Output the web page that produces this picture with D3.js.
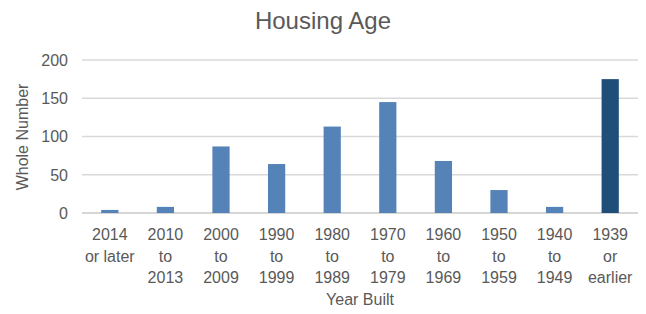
<!DOCTYPE html>
<html>
<head>
<meta charset="utf-8">
<script src="https://cdn.jsdelivr.net/npm/d3@7"></script>
<style>
  body { margin: 0; background: #fff; }
  text { font-family: "Liberation Sans", Arial, sans-serif; fill: #595959; }
</style>
</head>
<body>
<svg class="chart"></svg>
<script>
  // data
  let categories = ["2014|or later", "2010|to|2013", "2000|to|2009", "1990|to|1999", "1980|to|1989",
                    "1970|to|1979", "1960|to|1969", "1950|to|1959", "1940|to|1949", "1939|or|earlier"];
  let values     = [4, 8, 87, 64, 113, 145, 68, 30, 8, 175];
  let yTicks     = [0, 50, 100, 150, 200];

  let width  = 646;
  let height = 314;
  let margin = {left: 82, right: 8, top: 60, bottom: 101};
  let svg    = d3.select(".chart").attr("width", width).attr("height", height);

  let x = d3.scaleBand().domain(categories).range([margin.left, width - margin.right]).paddingInner(0.69).paddingOuter(0.345);
  let y = d3.scaleLinear().domain([0, 200]).range([height - margin.bottom, margin.top]);

  // gridlines
  svg.append("g")
  .selectAll("line")
  .data(yTicks)
  .join("line")
  .attr("x1", margin.left)
  .attr("x2", width - margin.right)
  .attr("y1", d => y(d))
  .attr("y2", d => y(d))
  .attr("stroke", d => d === 0 ? "#c8c8c8" : "#d9d9d9")
  .attr("stroke-width", 1.3);

  // y tick labels
  svg.append("g")
  .selectAll("text")
  .data(yTicks)
  .join("text")
  .attr("x", margin.left - 14)
  .attr("y", d => y(d))
  .attr("dy", "0.36em")
  .attr("text-anchor", "end")
  .style("font-size", "16px")
  .text(d => d);

  // bars
  svg.append("g")
  .selectAll("rect")
  .data(values)
  .join("rect")
  .attr("x", (d, i) => x(categories[i]))
  .attr("width", x.bandwidth())
  .attr("y", d => y(d))
  .attr("height", d => y(0) - y(d))
  .attr("fill", (d, i) => i === values.length - 1 ? "#1f4e79" : "#5583b8");

  // x tick labels, several lines each
  let xl = svg.append("g")
  .selectAll("text")
  .data(categories)
  .join("text")
  .attr("x", d => x(d) + x.bandwidth() / 2)
  .attr("y", y(0) + 27)
  .attr("text-anchor", "middle")
  .style("font-size", "16px");

  xl.selectAll("tspan")
  .data(d => d.split("|"))
  .join("tspan")
  .attr("x", function() { return this.parentNode.getAttribute("x"); })
  .attr("dy", (d, i) => i === 0 ? 0 : 21.5)
  .text(d => d);

  // titles
  svg.append("text")
  .attr("x", 323)
  .attr("y", 29)
  .attr("text-anchor", "middle")
  .style("font-size", "24px")
  .text("Housing Age");

  svg.append("text")
  .attr("x", (margin.left + width - margin.right) / 2)
  .attr("y", 305)
  .attr("text-anchor", "middle")
  .style("font-size", "16px")
  .text("Year Built");

  svg.append("text")
  .attr("transform", "translate(28," + 137 + ") rotate(-90)")
  .attr("text-anchor", "middle")
  .style("font-size", "16px")
  .text("Whole Number");
</script>
</body>
</html>
